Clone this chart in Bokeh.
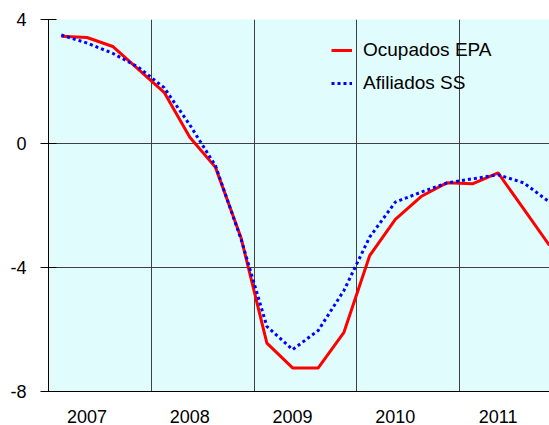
from bokeh.plotting import figure
from bokeh.models import Range1d, FixedTicker, Legend, LegendItem
from bokeh.embed import file_html
from bokeh.resources import INLINE

# Quarterly data, 2007 Q1 .. 2011 Q4
years = ["2007", "2008", "2009", "2010", "2011"]
quarter_index = list(range(20))
ocupados_epa = [3.46, 3.42, 3.13, 2.39, 1.65, 0.2, -0.77, -3.06, -6.44, -7.24,
                -7.24, -6.09, -3.62, -2.45, -1.71, -1.27, -1.3, -0.95, -2.12, -3.29]
afiliados_ss = [3.5, 3.24, 2.91, 2.46, 1.8, 0.6, -0.72, -3.1, -5.9, -6.65,
                -6.03, -4.74, -3.02, -1.89, -1.57, -1.28, -1.14, -1.01, -1.27, -1.89]
y_ticks = [-8, -4, 0, 4]
y_tick_labels = ["-8", "-4", "0", "4"]

xs = [q + 0.5 for q in quarter_index]

p = figure(width=549, height=425, output_backend="svg", toolbar_location=None,
           x_range=Range1d(0, 19.5), y_range=Range1d(-8, 4),
           min_border_left=48, min_border_right=0, min_border_top=19, min_border_bottom=34)

p.background_fill_color = "#e1fcfc"
p.border_fill_color = "white"
p.outline_line_color = None

r1 = p.line(xs, ocupados_epa, line_color="#ff0000", line_width=3)
r2 = p.line(xs, afiliados_ss, line_color="#0000ff", line_width=3, line_dash="3 3")

font = "Liberation Sans"

# x axis: year labels centred, grid at year boundaries
label_pos = [1.5 + 4 * k for k in range(len(years))]
p.xaxis.ticker = FixedTicker(ticks=label_pos)
p.xaxis.major_label_overrides = {pos: yr for pos, yr in zip(label_pos, years)}
p.xaxis.major_tick_out = 0
p.xaxis.major_tick_in = 0
p.xaxis.minor_tick_line_color = None
p.xaxis.axis_line_color = "black"
p.xaxis.major_label_text_font = font
p.xaxis.major_label_text_font_size = "18px"
p.xaxis.major_label_text_color = "black"
p.xaxis.major_label_standoff = 18

p.xgrid.ticker = FixedTicker(ticks=[4, 8, 12, 16])
p.xgrid.grid_line_color = "#404040"
p.xgrid.grid_line_width = 1

p.yaxis.ticker = FixedTicker(ticks=y_ticks)
p.yaxis.major_label_overrides = {t: s for t, s in zip(y_ticks, y_tick_labels)}
p.yaxis.major_tick_out = 8
p.yaxis.major_tick_in = 8
p.yaxis.major_tick_line_color = "black"
p.yaxis.minor_tick_line_color = None
p.yaxis.axis_line_color = "black"
p.yaxis.major_label_text_font = font
p.yaxis.major_label_text_font_size = "18px"
p.yaxis.major_label_text_color = "black"
p.yaxis.major_label_standoff = 14

p.ygrid.grid_line_color = "#404040"
p.ygrid.grid_line_width = 1

legend = Legend(items=[LegendItem(label="Ocupados EPA", renderers=[r1]),
                       LegendItem(label="Afiliados SS", renderers=[r2])],
                location=(283, 297))
legend.background_fill_alpha = 0
legend.border_line_color = None
legend.padding = 0
legend.margin = 0
legend.spacing = 11
legend.glyph_width = 21
legend.glyph_height = 20
legend.label_height = 20
legend.label_standoff = 11
legend.label_text_font = font
legend.label_text_font_size = "19px"
legend.label_text_color = "black"
p.add_layout(legend)

open("out.html", "w").write(file_html(p, INLINE))
